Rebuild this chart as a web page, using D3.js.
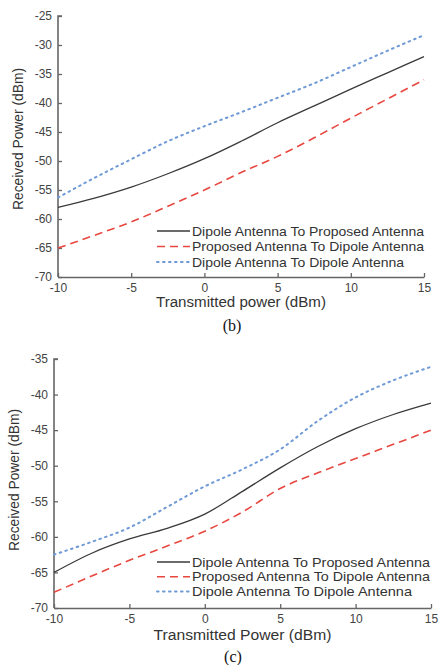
<!DOCTYPE html>
<html>
<head>
<meta charset="utf-8">
<script src="https://cdn.jsdelivr.net/npm/d3@7"></script>
<style>
  body { margin: 0; background: #fff; }
  svg { display: block; }
</style>
</head>
<body>
<svg id="chart" width="439" height="665"></svg>
<script>
const txPower = [-10, -7.5, -5, -2.5, 0, 2.5, 5, 7.5, 10, 12.5, 15];
const seriesNames = [
  'Dipole Antenna To Proposed Antenna',
  'Proposed Antenna To Dipole Antenna',
  'Dipole Antenna To Dipole Antenna'
];

// panel (b)
const bDipoleToProposed = [-58, -56.4, -54.5, -52.2, -49.6, -46.6, -43.4, -40.5, -37.6, -34.8, -32];
const bProposedToDipole = [-65, -62.8, -60.5, -57.8, -55, -52, -49.2, -46, -42.6, -39.3, -36];
const bDipoleToDipole = [-56.3, -52.9, -49.7, -46.6, -44, -41.6, -39.1, -36.6, -33.8, -31, -28.3];
const bYTicks = [-25, -30, -35, -40, -45, -50, -55, -60, -65, -70];

// panel (c)
const cDipoleToProposed = [-65, -62.3, -60.3, -58.8, -56.8, -53.6, -50.3, -47.3, -44.8, -42.8, -41.2];
const cProposedToDipole = [-67.8, -65.5, -63.3, -61.3, -59.2, -56.5, -53.2, -51, -49, -47, -45];
const cDipoleToDipole = [-62.5, -60.7, -58.7, -55.8, -52.9, -50.5, -47.7, -43.7, -40.4, -38, -36.1];
const cYTicks = [-35, -40, -45, -50, -55, -60, -65, -70];

const xTicks = [-10, -5, 0, 5, 10, 15];

const styles = [
  { color: '#3a3a3a', dash: null, width: 1.3 },
  { color: '#e8473f', dash: '8,5', width: 1.6 },
  { color: '#6f9ad6', dash: '1.6,4.4', width: 2 }
];

const svg = d3.select('#chart');

// stretch a text element to a given width (the scan is a bit wider than tall)
function fit(sel, w) {
  sel.attr('textLength', w).attr('lengthAdjust', 'spacingAndGlyphs');
}

const plain = (d) => String(d); // hyphen minus, as in the figure

function drawPanel(cfg) {
  const g = svg.append('g');
  const x = d3.scaleLinear().domain([-10, 15]).range([cfg.left, cfg.right]);
  const y = d3.scaleLinear().domain([cfg.yMax, -70]).range([cfg.top, cfg.bottom]);

  const xAxis = g.append('g')
    .attr('transform', `translate(0,${cfg.bottom})`)
    .call(d3.axisBottom(x).tickValues(xTicks).tickFormat(plain)
      .tickSize(-4).tickPadding(6).tickSizeOuter(0));
  const yAxis = g.append('g')
    .attr('transform', `translate(${cfg.left},0)`)
    .call(d3.axisLeft(y).tickValues(cfg.yTicks).tickFormat(plain)
      .tickSize(-4).tickPadding(6).tickSizeOuter(0));

  [xAxis, yAxis].forEach((a) => {
    a.select('.domain').attr('stroke', '#666').attr('stroke-width', 1.6);
    a.selectAll('.tick line').attr('stroke', '#666').attr('stroke-width', 1.3);
    a.selectAll('.tick text')
      .attr('fill', '#444')
      .style('font', '12px "Liberation Sans", Arial, sans-serif');
  });
  // the top y tick in the figure is a short cap on the axis
  yAxis.select('.domain').attr('d', `M4,${cfg.top}H0V${cfg.bottom}`);

  const line = d3.line()
    .x((d, i) => x(txPower[i]))
    .y((d) => y(d))
    .curve(d3.curveMonotoneX);

  g.append('g')
    .selectAll('path')
    .data(cfg.series)
    .join('path')
    .attr('d', (d) => line(d))
    .attr('fill', 'none')
    .attr('stroke', (d, i) => styles[i].color)
    .attr('stroke-width', (d, i) => styles[i].width)
    .attr('stroke-dasharray', (d, i) => styles[i].dash)
    .attr('stroke-linecap', (d, i) => (i === 2 ? 'round' : 'butt'));

  // legend
  const legend = g.append('g')
    .selectAll('g')
    .data(seriesNames)
    .join('g')
    .attr('transform', (d, i) => `translate(0,${cfg.legendY + i * cfg.legendStep})`);
  legend.append('line')
    .attr('x1', 157).attr('x2', 190)
    .attr('stroke', (d, i) => styles[i].color)
    .attr('stroke-width', (d, i) => styles[i].width)
    .attr('stroke-dasharray', (d, i) => styles[i].dash)
    .attr('stroke-linecap', (d, i) => (i === 2 ? 'round' : 'butt'));
  legend.append('text')
    .attr('x', 192)
    .attr('dy', '0.35em')
    .attr('fill', '#333')
    .style('font', '13px "Liberation Sans", Arial, sans-serif')
    .text((d) => d)
    .each(function (d, i) {
      fit(d3.select(this), cfg.legendWidths[i]);
    });

  // axis titles
  const xt = g.append('text')
    .attr('x', (cfg.left + cfg.right) / 2)
    .attr('y', cfg.xTitleY)
    .attr('text-anchor', 'middle')
    .attr('fill', '#333')
    .style('font', '14px "Liberation Sans", Arial, sans-serif')
    .text(cfg.xTitle);
  fit(xt, cfg.xTitleWidth);

  const yt = g.append('text')
    .attr('transform', `translate(${cfg.yTitleX},${cfg.yTitleMid}) rotate(-90)`)
    .attr('text-anchor', 'middle')
    .attr('fill', '#333')
    .style('font', '14px "Liberation Sans", Arial, sans-serif')
    .text('Received Power (dBm)');
  fit(yt, 142);

  g.append('text')
    .attr('x', cfg.captionX)
    .attr('y', cfg.captionY)
    .attr('text-anchor', 'middle')
    .attr('fill', '#111')
    .style('font', '16px "Liberation Serif", "Times New Roman", serif')
    .text(cfg.caption);
}

drawPanel({
  left: 58, right: 424, top: 16, bottom: 277, yMax: -25, yTicks: bYTicks,
  series: [bDipoleToProposed, bProposedToDipole, bDipoleToDipole],
  legendY: 231, legendStep: 15.5, legendWidths: [232, 232, 212],
  xTitle: 'Transmitted power (dBm)', xTitleY: 307, xTitleWidth: 170,
  yTitleX: 23, yTitleMid: 139,
  caption: '(b)', captionX: 232, captionY: 331
});

drawPanel({
  left: 54, right: 431, top: 359, bottom: 608, yMax: -35, yTicks: cYTicks,
  series: [cDipoleToProposed, cProposedToDipole, cDipoleToDipole],
  legendY: 562, legendStep: 14.7, legendWidths: [238, 238, 220],
  xTitle: 'Transmitted Power (dBm)', xTitleY: 640, xTitleWidth: 178,
  yTitleX: 19, yTitleMid: 480,
  caption: '(c)', captionX: 233, captionY: 662
});
</script>
</body>
</html>
